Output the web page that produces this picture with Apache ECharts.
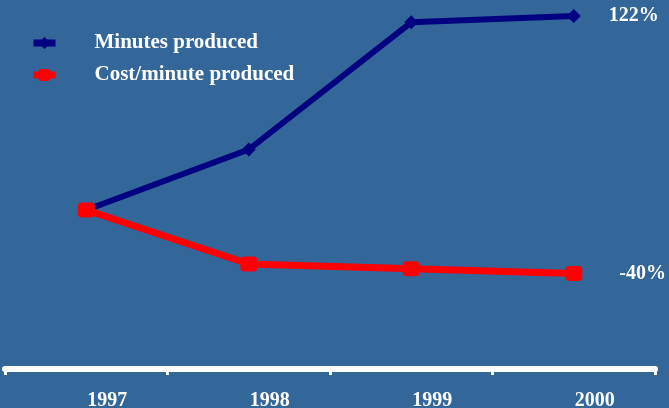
<!DOCTYPE html>
<html>
<head>
<meta charset="utf-8">
<script src="https://cdn.jsdelivr.net/npm/echarts@6/dist/echarts.min.js"></script>
<style>
  html, body { margin: 0; padding: 0; background: #336699; }
  #chart { width: 669px; height: 408px; }
</style>
</head>
<body>
<div id="chart"></div>
<script>
// Years on the category axis
const years = ['1997', '1998', '1999', '2000'];
// Percentage change relative to 1997
const minutesProduced = [0, 38, 118, 122];
const costPerMinute = [0, -34, -37, -40];

const seriesNames = ['Minutes produced', 'Cost/minute produced'];

const serif = '"Liberation Serif", "DejaVu Serif", serif';
const lastIdx = years.length - 1;

function endLabel(offsetX) {
  return {
    show: true,
    position: 'right',
    distance: offsetX,
    color: '#ffffff',
    fontFamily: serif,
    fontWeight: 'bold',
    fontSize: 20,
    formatter: p => (p.dataIndex === lastIdx ? p.value + '%' : '')
  };
}

const chart = echarts.init(document.getElementById('chart'));
chart.setOption({
  backgroundColor: '#336699',
  animation: false,
  grid: { left: 5, right: 14, top: 0, bottom: 39, outerBoundsMode: 'none', containLabel: false },
  legend: {
    orient: 'vertical',
    left: 25,
    top: 26,
    itemWidth: 22,
    itemHeight: 15,
    itemGap: 8,
    lineStyle: { width: 7 },
    textStyle: {
      color: '#ffffff',
      fontFamily: serif,
      fontWeight: 'bold',
      fontSize: 21,
      lineHeight: 24,
      padding: [0, 0, 0, 34]
    },
    data: seriesNames
  },
  xAxis: {
    type: 'category',
    data: years,
    boundaryGap: true,
    axisLine: { show: true, onZero: false, lineStyle: { color: '#ffffff', width: 6 } },
    axisTick: { show: true, length: 6, lineStyle: { color: '#ffffff', width: 3 } },
    axisLabel: {
      color: '#ffffff',
      fontFamily: serif,
      fontWeight: 'bold',
      fontSize: 20,
      margin: 22,
      padding: [0, 0, 0, 42]
    }
  },
  yAxis: {
    type: 'value',
    min: -100,
    max: 132,
    show: false,
    splitLine: { show: false }
  },
  series: [
    {
      name: seriesNames[0],
      type: 'line',
      data: minutesProduced,
      color: '#000080',
      lineStyle: { width: 6, color: '#000080' },
      symbol: 'diamond',
      symbolSize: 14,
      itemStyle: { color: '#000080' },
      label: endLabel(28)
    },
    {
      name: seriesNames[1],
      type: 'line',
      data: costPerMinute,
      color: '#ff0000',
      lineStyle: { width: 7, color: '#ff0000' },
      symbol: 'roundRect',
      symbolSize: [17, 15],
      itemStyle: { color: '#ff0000' },
      label: endLabel(37)
    }
  ]
});
</script>
</body>
</html>
